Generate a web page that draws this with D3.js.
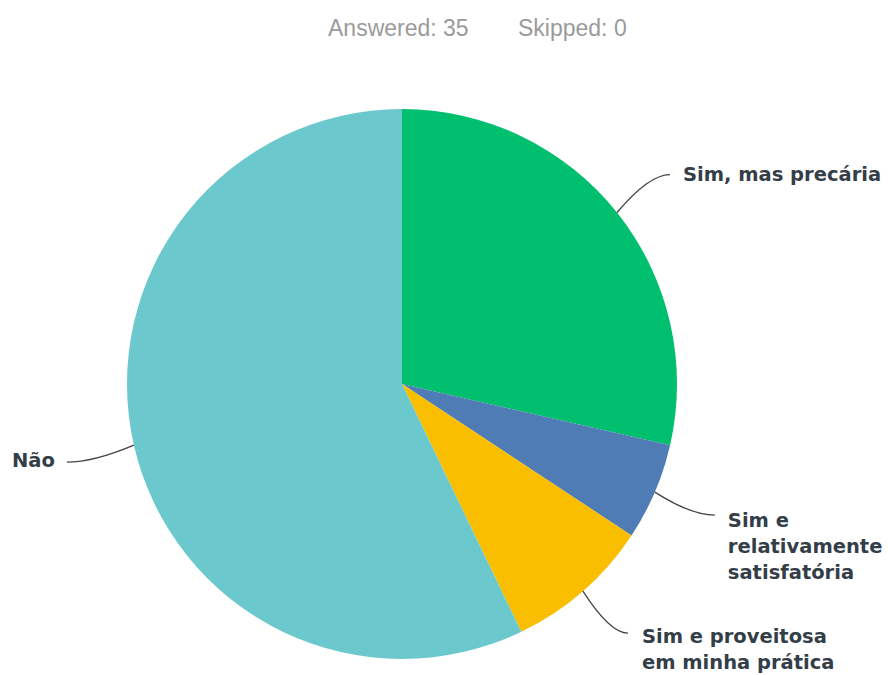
<!DOCTYPE html>
<html>
<head>
<meta charset="utf-8">
<script src="https://cdn.jsdelivr.net/npm/d3@7"></script>
<style>
  body { margin: 0; background: #ffffff; }
  svg { display: block; }
</style>
</head>
<body>
<div id="main_output"></div>
<script>
// survey answers, clockwise from 12 o'clock
const categories = ["Sim, mas precária", "Sim e relativamente satisfatória", "Sim e proveitosa em minha prática", "Não"];
const counts = [10, 2, 3, 20];
const colours = ["#00bf6f", "#507cb5", "#f9be00", "#6bc8cd"];
const answered = 35, skipped = 0;

// label text broken into lines as in the picture
const labelLines = [["Sim, mas precária"], ["Sim e", "relativamente", "satisfatória"], ["Sim e proveitosa", "em minha prática"], ["Não"]];

const width = 888, height = 675;
const cx = 402, cy = 384, radius = 275;

const svg = d3.select("#main_output").append("svg")
  .attr("width", width)
  .attr("height", height);

const sub = svg.append("g")
  .attr("font-family", "'Liberation Sans', Helvetica, Arial, sans-serif")
  .attr("font-size", "23px")
  .attr("fill", "#9a9a9a");
sub.append("text").attr("x", 328).attr("y", 36).text("Answered: " + answered);
sub.append("text").attr("x", 518).attr("y", 36).text("Skipped: " + skipped);

const pie = d3.pie().sort(null).value(function(d) { return d; });
const arcs = pie(counts);

const arc = d3.arc().innerRadius(0).outerRadius(radius);
const edge = d3.arc().innerRadius(radius).outerRadius(radius);

const g = svg.append("g").attr("transform", "translate(" + cx + "," + cy + ")");

g.selectAll("path.slice")
  .data(arcs)
  .enter()
  .append("path")
  .attr("class", "slice")
  .attr("d", arc)
  .attr("fill", function(d, i) { return colours[i]; });

// offsets from the slice edge: [line end dx, line end dy, text dx, text dy]
const leader = [
  [53, -38, 66, -32],
  [60, 23, 73, 35],
  [45, 42, 59, 52],
  [-67, 17, -79, 22]
];
const lineHeight = 26;

arcs.forEach(function(d, i) {
  const p = edge.centroid(d);
  const o = leader[i];
  const ex = p[0] + o[0], ey = p[1] + o[1];
  // bend near the end so it runs flat into the label
  const qx = p[0] + o[0] * 0.6, qy = ey;
  g.append("path")
    .attr("d", "M" + p[0] + "," + p[1] + "Q" + qx + "," + qy + " " + ex + "," + ey)
    .attr("fill", "none")
    .attr("stroke", "#444444")
    .attr("stroke-width", 1.3);

  const t = g.append("text")
    .attr("x", p[0] + o[2])
    .attr("y", p[1] + o[3])
    .attr("text-anchor", o[0] < 0 ? "end" : "start")
    .attr("font-family", "'DejaVu Sans', sans-serif")
    .attr("font-weight", "bold")
    .attr("font-size", "19.5px")
    .attr("fill", "#333e48");
  labelLines[i].forEach(function(s, j) {
    t.append("tspan")
      .attr("x", p[0] + o[2])
      .attr("dy", j === 0 ? 0 : lineHeight)
      .text(s);
  });
});
</script>
</body>
</html>
